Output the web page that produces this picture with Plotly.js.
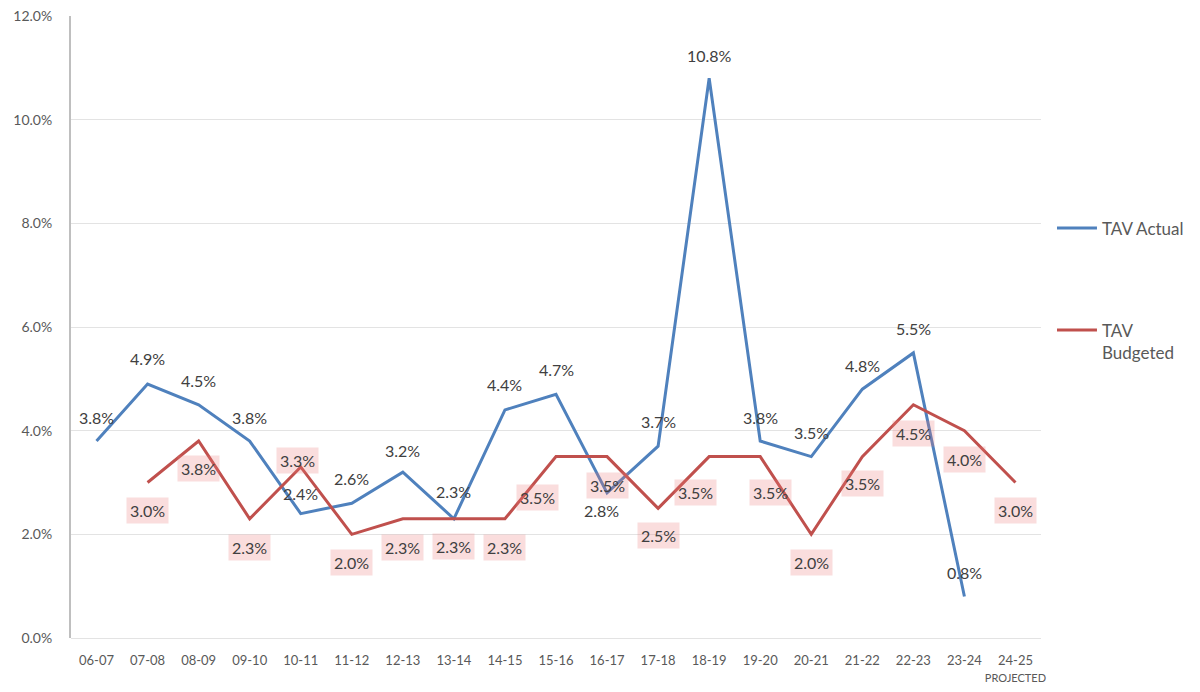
<!DOCTYPE html>
<html>
<head>
<meta charset="utf-8">
<script src="https://cdn.plot.ly/plotly-3.0.1.min.js"></script>
<style>
  html, body { margin: 0; padding: 0; background: #fff; }
  #chart { width: 1200px; height: 692px; }
</style>
</head>
<body>
<div id="chart"></div>
<script>
// Fiscal years
const years = ['06-07','07-08','08-09','09-10','10-11','11-12','12-13','13-14','14-15','15-16',
               '16-17','17-18','18-19','19-20','20-21','21-22','22-23','23-24','24-25'];
const yearTickText = years.slice(0, -1).concat(['24-25<br><span style="font-size:11px">PROJECTED</span>']);

// TAV growth, percent
const tavActual   = [3.8, 4.9, 4.5, 3.8, 2.4, 2.6, 3.2, 2.3, 4.4, 4.7, 2.8, 3.7, 10.8, 3.8, 3.5, 4.8, 5.5, 0.8, null];
const tavBudgeted = [null, 3.0, 3.8, 2.3, 3.3, 2.0, 2.3, 2.3, 2.3, 3.5, 3.5, 2.5, 3.5, 3.5, 2.0, 3.5, 4.5, 4.0, 3.0];

// Series names
const seriesNames = ['TAV Actual', 'TAV<br>Budgeted'];

// Label placement (pixel shifts from the point: [dx, dy], dy positive = down)
const actualLabelShift = [[0,-24],[0,-26],[0,-24],[0,-24],[0,-20],[0,-25],[0,-22],[0,-27],[0,-25],[0,-25],
                          [-6,18],[0,-25],[0,-23],[0,-24],[0,-24],[0,-24],[0,-24],[0,-24],[0,0]];
const budgetLabelShift = [[0,0],[0,28],[0,27],[0,29],[-3,-6],[0,28],[0,29],[0,28],[0,29],[-19,41],
                          [0,29],[0,27],[-14,36],[10,36],[0,28],[0,27],[0,29],[0,29],[0,28]];

const BLUE = '#4F81BD';
const RED = '#C0504D';
const TEXT = '#595959';
const FONT = 'Lato, "Open Sans", sans-serif';

const traces = [
  {
    type: 'scatter', mode: 'lines', name: seriesNames[0], showlegend: false,
    x: years, y: tavActual, line: {color: BLUE, width: 3}, connectgaps: false,
    hoverinfo: 'x+y'
  },
  {
    type: 'scatter', mode: 'lines', name: seriesNames[1], showlegend: false,
    x: years, y: tavBudgeted, line: {color: RED, width: 3}, connectgaps: false,
    hoverinfo: 'x+y'
  }
];

const annotations = [];
years.forEach((yr, i) => {
  if (tavActual[i] !== null) {
    annotations.push({
      x: yr, y: tavActual[i], xref: 'x', yref: 'y', showarrow: false,
      text: tavActual[i].toFixed(1) + '%',
      xshift: actualLabelShift[i][0], yshift: -actualLabelShift[i][1],
      font: {family: FONT, size: 16, color: '#404040'}
    });
  }
  if (tavBudgeted[i] !== null) {
    annotations.push({
      x: yr, y: tavBudgeted[i], xref: 'x', yref: 'y', showarrow: false,
      text: tavBudgeted[i].toFixed(1) + '%',
      xshift: budgetLabelShift[i][0], yshift: -budgetLabelShift[i][1],
      bgcolor: 'rgba(235,120,120,0.25)', borderpad: 3,
      font: {family: FONT, size: 16, color: '#404040'}
    });
  }
});

// Legend drawn at the right of the plot: a short line swatch and the series name
const legendShapes = [
  {type: 'line', xref: 'paper', yref: 'paper', x0: 1.0165, x1: 1.0577, y0: 0.659, y1: 0.659,
   line: {color: BLUE, width: 3}},
  {type: 'line', xref: 'paper', yref: 'paper', x0: 1.0165, x1: 1.0577, y0: 0.495, y1: 0.495,
   line: {color: RED, width: 3}}
];
annotations.push(
  {xref: 'paper', yref: 'paper', x: 1.0608, y: 0.659, xanchor: 'left', yanchor: 'middle',
   showarrow: false, align: 'left', text: seriesNames[0],
   font: {family: FONT, size: 17, color: TEXT}},
  {xref: 'paper', yref: 'paper', x: 1.0608, y: 0.515, xanchor: 'left', yanchor: 'top',
   showarrow: false, align: 'left', text: seriesNames[1],
   font: {family: FONT, size: 17, color: TEXT}}
);

const layout = {
  width: 1200, height: 692,
  margin: {l: 71, r: 159, t: 16, b: 54},
  paper_bgcolor: '#fff', plot_bgcolor: '#fff',
  font: {family: FONT, color: TEXT, size: 13},
  showlegend: false,
  xaxis: {
    type: 'category', tickvals: years, ticktext: yearTickText,
    showgrid: false, zeroline: false, showline: false, ticks: '',
    tickangle: 0, ticklabelstandoff: 13,
    tickfont: {family: FONT, size: 13, color: TEXT},
    range: [-0.5, years.length - 0.5], fixedrange: true
  },
  yaxis: {
    range: [0, 12],
    tickvals: [0, 2, 4, 6, 8, 10, 12],
    ticktext: ['0.0%', '2.0%', '4.0%', '6.0%', '8.0%', '10.0%', '12.0%'],
    showgrid: true, gridcolor: '#e3e3e3', gridwidth: 1,
    zeroline: true, zerolinecolor: '#e3e3e3', zerolinewidth: 1,
    showline: true, linecolor: '#bfbfbf', linewidth: 2,
    ticks: '', ticklen: 0, ticklabelstandoff: 14,
    tickfont: {family: FONT, size: 14, color: TEXT},
    fixedrange: true
  },
  shapes: legendShapes,
  annotations: annotations
};

Plotly.newPlot('chart', traces, layout, {displayModeBar: false, staticPlot: true});
</script>
</body>
</html>
